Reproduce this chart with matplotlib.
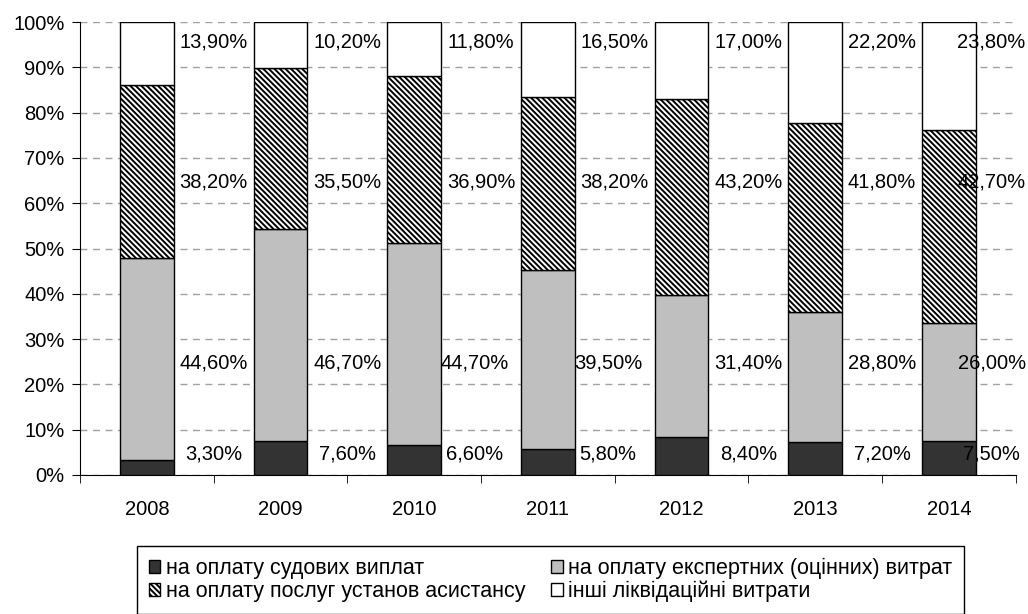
import numpy as np
import matplotlib
matplotlib.use("Agg")
import matplotlib.pyplot as plt

plt.rcParams['font.family'] = ['Liberation Sans', 'DejaVu Sans']
plt.rcParams['hatch.linewidth'] = 1.4

# data (per cent)
years = ['2008', '2009', '2010', '2011', '2012', '2013', '2014']
court = [3.3, 7.6, 6.6, 5.8, 8.4, 7.2, 7.5]
expert = [44.6, 46.7, 44.7, 39.5, 31.4, 28.8, 26.0]
assist = [38.2, 35.5, 36.9, 38.2, 43.2, 41.8, 42.7]
other = [13.9, 10.2, 11.8, 16.5, 17.0, 22.2, 23.8]

names = ['на оплату судових виплат',
         'на оплату експертних (оцінних) витрат',
         'на оплату послуг установ асистансу',
         'інші ліквідаційні витрати']

series = [court, expert, assist, other]
colors = ['#333333', '#bfbfbf', 'white', 'white']
hatches = [None, None, '\\' * 6, None]

# the value labels sit on fixed rows to the right of each bar
label_rows = [4.7, 24.7, 64.8, 95.6]

fig = plt.figure(figsize=(10.28, 6.14), dpi=100)
ax = fig.add_axes([0.0778, 0.2264, 0.9102, 0.7376])

x = np.arange(len(years))
bottom = np.zeros(len(years))
bars = []
for i, vals in enumerate(series):
    vals = np.array(vals)
    b = ax.bar(x, vals, 0.4, bottom=bottom, color=colors[i], edgecolor='black',
               linewidth=1.0, hatch=hatches[i], label=names[i], zorder=3)
    bars.append(b)
    for j in range(len(years)):
        lx = j + 0.5
        if j in (2, 3) and i < 2:
            lx = j + 0.45
        if j == len(years) - 1:
            lx = j + 0.32
        txt = ('%.2f%%' % vals[j]).replace('.', ',')
        ax.text(lx, label_rows[i], txt, ha='center', va='center',
                fontsize=14.5, zorder=4)
    bottom = bottom + vals

ax.set_xlim(-0.5, len(years) - 0.5)
ax.set_ylim(0, 100)
ax.set_yticks(np.arange(0, 101, 10))
ax.set_yticklabels(['%d%%' % v for v in range(0, 101, 10)], fontsize=14.5)
ax.set_xticks(x)
ax.set_xticklabels(years, fontsize=14.5)
ax.set_xticks(np.arange(-0.5, len(years)), minor=True)
ax.tick_params(axis='x', which='major', length=0, pad=18)
ax.tick_params(axis='x', which='minor', length=6, direction='out', color='black')
ax.tick_params(axis='y', length=6, direction='out', pad=5)
ax.yaxis.grid(True, linestyle=(0, (5, 4)), color='#a0a0a0', linewidth=1.0, zorder=0)
for s in ['top', 'right']:
    ax.spines[s].set_visible(False)
ax.spines['left'].set_color('black')
ax.spines['bottom'].set_color('black')

order = [0, 2, 1, 3]
leg = fig.legend([bars[k] for k in order], [names[k] for k in order],
                 loc='upper left', bbox_to_anchor=(0.133, 0.111),
                 ncol=2, fontsize=15.5, frameon=True, fancybox=False,
                 edgecolor='black', framealpha=1, borderpad=0.55,
                 handlelength=0.55, handleheight=0.55, handletextpad=0.25,
                 labelspacing=0.1, borderaxespad=0, columnspacing=1.2)
leg.get_frame().set_linewidth(1.0)

fig.savefig('out.png', dpi=100)
